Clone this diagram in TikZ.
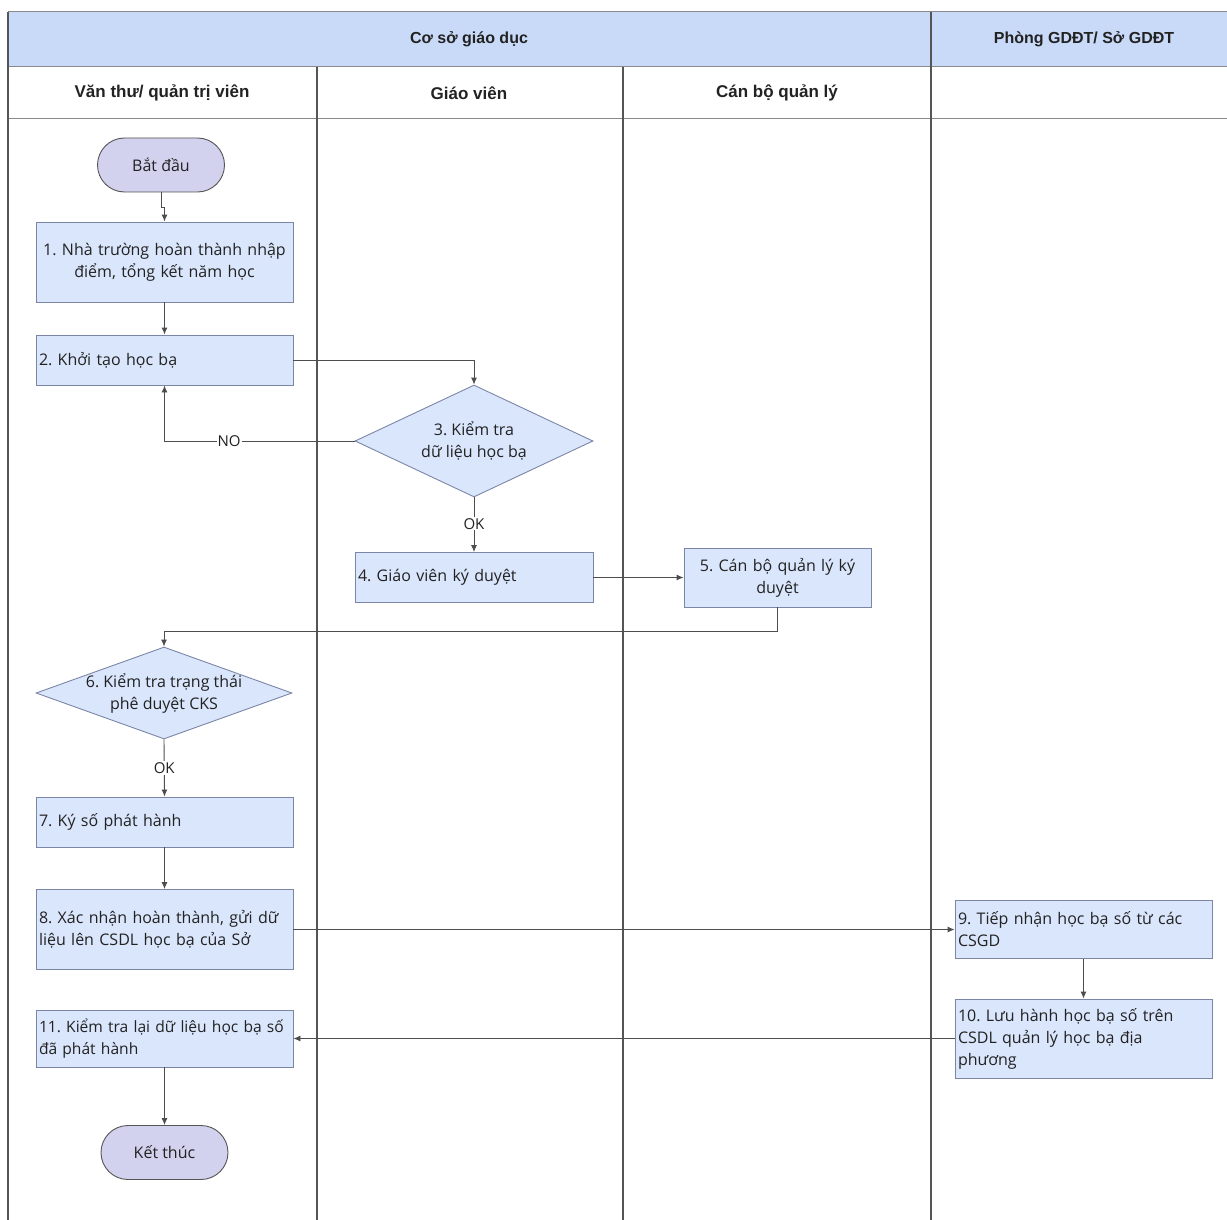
\documentclass[tikz,border=0pt]{standalone}
\usepackage{fontspec}
\setmainfont{Open Sans}
\newfontfamily\hdrfont{Liberation Sans}
\usetikzlibrary{shapes.geometric,arrows.meta}
\definecolor{hdrblue}{HTML}{C9DAF8}
\definecolor{boxfill}{HTML}{DAE6FC}
\definecolor{boxline}{HTML}{7B86A6}
\definecolor{termfill}{HTML}{D2D2EE}
\definecolor{laneline}{HTML}{555555}
\definecolor{hdrline}{HTML}{8A8A8A}
\definecolor{connc}{HTML}{4D4D4D}
\definecolor{txt}{HTML}{222222}
\frenchspacing
\begin{document}
\begin{tikzpicture}[x=1pt,y=-1pt,
  boxtext/.style={font=\frenchspacing\fontsize{16}{22}\selectfont, text=txt},
  procbox/.style={boxtext, draw=boxline, fill=boxfill, line width=0.9pt, inner xsep=3pt, inner ysep=2pt, text width=251pt},
  leftbox/.style={procbox, align=left},
  centbox/.style={procbox, align=center},
  terminal/.style={boxtext, draw=laneline, fill=termfill, line width=0.9pt, rounded corners=27pt, minimum width=127pt, minimum height=54pt},
  decision/.style={draw=boxline, fill=boxfill, line width=0.9pt, shape=diamond, inner sep=0pt},
  dtext/.style={boxtext, align=center, inner sep=0pt},
  conn/.style={draw=connc, line width=0.9pt, -{Latex[length=7pt,width=6pt]}},
  lbl/.style={fill=white, inner sep=1pt, font=\fontsize{15}{17}\selectfont, text=txt},
  hdr/.style={font=\hdrfont\bfseries\fontsize{16}{18}\selectfont, text=txt},
  colhdr/.style={font=\hdrfont\bfseries\fontsize{17}{19}\selectfont, text=txt},
  lane/.style={draw=laneline, line width=1.1pt}
]
\useasboundingbox (0,0) rectangle (1227,1220);
% header
\fill[hdrblue] (8,12) rectangle (1227,67);
\draw[draw=hdrline, line width=1pt] (1227,12) -- (8,12) -- (8,67) -- (1227,67);
\draw[draw=hdrline, line width=1pt] (8,119) -- (1227,119);
\node[hdr] (h0) at (469,39) {Cơ sở giáo dục};
\node[hdr] (h1) at (1084,39) {Phòng GDĐT/ Sở GDĐT};
\node[colhdr] (c1) at (162,93) {Văn thư/ quản trị viên};
\node[colhdr] (c2) at (469,93) {Giáo viên};
\node[colhdr] (c3) at (777,93) {Cán bộ quản lý};
% lanes
\draw[lane] (8,12) -- (8,1220);
\draw[lane] (317,67) -- (317,1220);
\draw[lane] (623,67) -- (623,1220);
\draw[lane] (931,12) -- (931,1220);

% nodes
\node[terminal] (start) at (161,165) {Bắt đầu};
\node[centbox, minimum height=80pt] (b1) at (164.5,262) {1. Nhà trường hoàn thành nhập\\điểm, tổng kết năm học};
\node[leftbox, minimum height=50pt] (b2) at (164.5,360) {2. Khởi tạo học bạ};
\node[decision, minimum width=238pt, minimum height=112pt] (d3) at (474,441) {};
\node[dtext] (t3) at (d3) {3. Kiểm tra\\dữ liệu học bạ};
\node[leftbox, text width=232pt, minimum height=50pt] (b4) at (474,577.5) {4. Giáo viên ký duyệt};
\node[centbox, text width=181pt, minimum height=59pt] (b5) at (777.5,577.5) {5. Cán bộ quản lý ký\\duyệt};
\node[decision, minimum width=256pt, minimum height=92pt] (d6) at (164,693) {};
\node[dtext] (t6) at (d6) {6. Kiểm tra trạng thái\\phê duyệt CKS};
\node[leftbox, minimum height=50pt] (b7) at (164.5,822) {7. Ký số phát hành};
\node[leftbox, minimum height=80pt] (b8) at (164.5,929.5) {8. Xác nhận hoàn thành, gửi dữ\\liệu lên CSDL học bạ của Sở};
\node[leftbox, minimum height=58pt] (b9) at (1083.5,929.5) {9. Tiếp nhận học bạ số từ các\\CSGD};
\node[leftbox, minimum height=79pt] (b10) at (1083.5,1038.5) {10. Lưu hành học bạ số trên\\CSDL quản lý học bạ địa\\phương};
\node[leftbox, minimum height=57pt, font=\frenchspacing\fontsize{15.6}{22}\selectfont] (b11) at (164.5,1038.5) {\mbox{11. Kiểm tra lại dữ liệu học bạ số}\\đã phát hành};
\node[terminal] (end) at (164.5,1152.5) {Kết thúc};

% connectors
\draw[conn] (start.south) -- ++(0,15) -| (b1.north);
\draw[conn] (b1.south) -- (b2.north);
\draw[conn] (b2.east) -| (d3.north);
\draw[conn] (d3.west) -| node[lbl, pos=0.33] {NO} (b2.south);
\draw[conn] (d3.south) -- node[lbl, pos=0.48] {OK} (b4.north);
\draw[conn] (b4.east) -- (b5.west);
\draw[conn] (b5.south) -- ++(0,24) -| (d6.north);
\draw[conn] (d6.south) -- node[lbl, pos=0.5] {OK} (b7.north);
\draw[conn] (b7.south) -- (b8.north);
\draw[conn] (b8.east) -- (b9.west);
\draw[conn] (b9.south) -- (b10.north);
\draw[conn] (b10.west) -- (b11.east);
\draw[conn] (b11.south) -- (end.north);
\end{tikzpicture}
\end{document}
